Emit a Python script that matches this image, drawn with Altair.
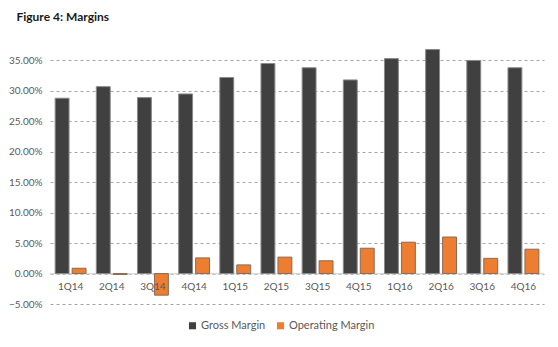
import altair as alt
import pandas as pd

quarters = ["1Q14", "2Q14", "3Q14", "4Q14", "1Q15", "2Q15", "3Q15", "4Q15", "1Q16", "2Q16", "3Q16", "4Q16"]
gross_margin = [28.8, 30.7, 28.9, 29.5, 32.2, 34.5, 33.8, 31.8, 35.3, 36.8, 35.0, 33.8]
operating_margin = [0.87, -0.15, -3.55, 2.57, 1.42, 2.7, 2.1, 4.16, 5.15, 6.0, 2.5, 4.0]
series = ["Gross Margin", "Operating Margin"]
y_ticks = [-5, 0, 5, 10, 15, 20, 25, 30, 35]

rows = []
for q, g, o in zip(quarters, gross_margin, operating_margin):
    rows.append({"q": q, "s": series[0], "v": g})
    rows.append({"q": q, "s": series[1], "v": o})
df = pd.DataFrame(rows)
labels_df = pd.DataFrame({"q": quarters, "zero": [0] * len(quarters)})

font = "Lato"
xscale = alt.Scale(domain=quarters, paddingInner=0.25, paddingOuter=0.125)
yscale = alt.Scale(domain=[-5, 40], nice=False)
yaxis = alt.Axis(values=y_ticks, title=None, labelExpr="format(datum.value/100, '.2%')",
                 grid=True, gridDash=[3, 3], gridColor="#a6a6a6", gridWidth=1,
                 domain=False, ticks=False, labelColor="#595959", labelFont=font,
                 labelFontSize=10, labelPadding=8, labelOverlap=False)

zero_line = alt.Chart(labels_df).mark_rule(color="#d9d9d9", strokeWidth=1).encode(
    y=alt.Y("zero:Q", scale=yscale, axis=yaxis),
    x=alt.value(0), x2=alt.value(494),
)

bars = alt.Chart(df).mark_bar(strokeWidth=1).encode(
    x=alt.X("q:N", sort=quarters, scale=xscale, axis=None),
    xOffset=alt.XOffset("s:N", sort=series, scale=alt.Scale(paddingInner=0.18)),
    y=alt.Y("v:Q", scale=yscale, axis=yaxis),
    color=alt.Color("s:N", sort=series,
                    scale=alt.Scale(domain=series, range=["#404040", "#ED7D31"]),
                    legend=alt.Legend(title=None, orient="none", direction="horizontal",
                                      legendX=137, legendY=290, symbolType="square",
                                      symbolSize=50, symbolStrokeWidth=0, labelFont=font,
                                      labelFontSize=11, labelColor="#595959",
                                      columnPadding=9, labelOffset=3)),
    stroke=alt.Stroke("s:N", sort=series,
                      scale=alt.Scale(domain=series, range=["#8a8a8a", "#8a6a55"]),
                      legend=None),
)

xlabels = alt.Chart(labels_df).mark_text(dy=13, font=font, fontSize=10, color="#595959").encode(
    x=alt.X("q:N", sort=quarters, scale=xscale, axis=None),
    y=alt.Y("zero:Q", scale=yscale, axis=yaxis),
    text="q:N",
)

chart = alt.layer(zero_line, bars, xlabels).properties(
    width=494, height=274,
    background="white",
    title=alt.TitleParams("Figure 4: Margins", anchor="start", font=font, fontSize=12,
                          fontWeight="bold", color="#1a1a1a", dx=8, offset=6),
    padding={"left": 50, "top": 30, "right": 14, "bottom": 43},
    autosize=alt.AutoSizeParams(type="none"),
).configure_view(stroke=None)

chart.save("out.html", embed_options={"renderer": "svg", "actions": False})
